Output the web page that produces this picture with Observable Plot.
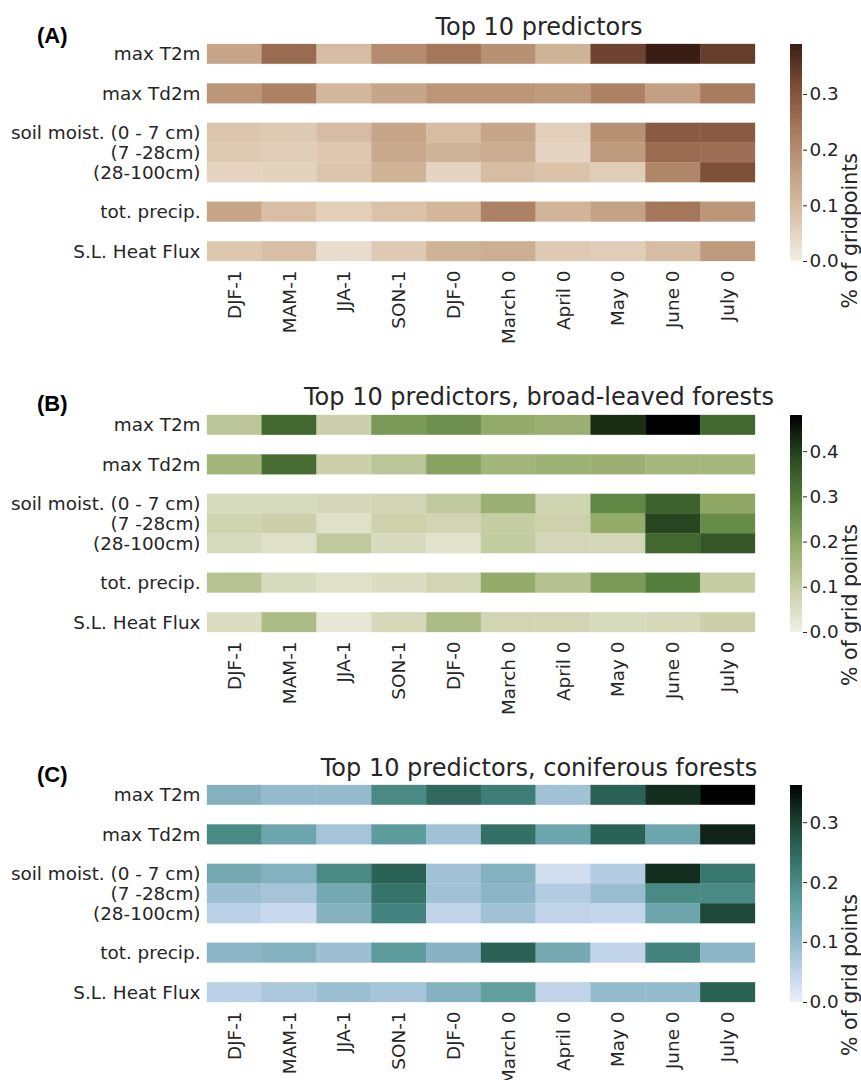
<!DOCTYPE html>
<html><head><meta charset="utf-8">
<script src="https://cdn.jsdelivr.net/npm/d3@7"></script>
<script src="https://cdn.jsdelivr.net/npm/@observablehq/plot@0.6"></script>
<style>
body{margin:0;background:#fff;font-family:"DejaVu Sans",sans-serif;}
#root{position:relative;width:861px;height:1080px;overflow:hidden;background:#fff;}
.abs{position:absolute;}
.title{font-family:"DejaVu Sans",sans-serif;font-size:24px;color:#262626;white-space:nowrap;line-height:1;transform:translateX(-50%);}
.letter{font-family:"Liberation Sans",Arial,sans-serif;font-weight:bold;font-size:22px;line-height:1;color:#000;}
</style></head><body><div id="root"></div>
<script>
// ---- data ----
const columns = ["DJF-1","MAM-1","JJA-1","SON-1","DJF-0","March 0","April 0","May 0","June 0","July 0"];
const predictors = ["max T2m","max Td2m","soil moist. (0 - 7 cm)","(7 -28cm)","(28-100cm)","tot. precip.","S.L. Heat Flux"];
const rowLayout = ["max T2m","gap1","max Td2m","gap2","soil moist. (0 - 7 cm)","(7 -28cm)","(28-100cm)","gap3","tot. precip.","gap4","S.L. Heat Flux"];

const titles = ["Top 10 predictors","Top 10 predictors, broad-leaved forests","Top 10 predictors, coniferous forests"];
const letters = ["(A)","(B)","(C)"];
const colorbarLabels = ["% of gridpoints","% of grid points","% of grid points"];
const colorMax = [0.39, 0.48, 0.362];
const colorbarTicks = [[0,0.1,0.2,0.3],[0,0.1,0.2,0.3,0.4],[0,0.1,0.2,0.3]];

const valuesA = [
  [0.15,0.26,0.10,0.20,0.24,0.19,0.12,0.33,0.39,0.34],
  [0.18,0.22,0.11,0.15,0.18,0.18,0.17,0.22,0.16,0.23],
  [0.08,0.07,0.10,0.15,0.10,0.15,0.06,0.19,0.29,0.29],
  [0.07,0.065,0.075,0.14,0.12,0.135,0.05,0.17,0.26,0.255],
  [0.05,0.055,0.08,0.12,0.05,0.10,0.085,0.065,0.21,0.31],
  [0.15,0.095,0.06,0.085,0.11,0.22,0.115,0.155,0.24,0.18],
  [0.075,0.095,0.035,0.07,0.12,0.13,0.07,0.065,0.10,0.17]
];
const valuesB = [
  [0.12,0.33,0.09,0.23,0.25,0.19,0.18,0.42,0.48,0.33],
  [0.165,0.32,0.09,0.12,0.21,0.165,0.175,0.18,0.16,0.16],
  [0.06,0.06,0.07,0.075,0.11,0.18,0.08,0.27,0.34,0.20],
  [0.08,0.09,0.045,0.085,0.075,0.10,0.085,0.19,0.39,0.26],
  [0.06,0.045,0.11,0.06,0.04,0.105,0.07,0.07,0.33,0.36],
  [0.125,0.06,0.045,0.055,0.075,0.19,0.13,0.23,0.29,0.10],
  [0.055,0.145,0.025,0.065,0.145,0.075,0.075,0.06,0.065,0.09]
];
const valuesC = [
  [0.12,0.10,0.10,0.20,0.25,0.22,0.085,0.26,0.32,0.362],
  [0.20,0.15,0.08,0.17,0.085,0.24,0.15,0.26,0.15,0.33],
  [0.14,0.12,0.20,0.26,0.085,0.12,0.03,0.065,0.32,0.23],
  [0.09,0.08,0.14,0.235,0.085,0.11,0.065,0.095,0.20,0.20],
  [0.055,0.04,0.12,0.21,0.05,0.085,0.05,0.045,0.15,0.29],
  [0.11,0.12,0.09,0.17,0.115,0.26,0.14,0.05,0.21,0.11],
  [0.055,0.075,0.09,0.08,0.12,0.165,0.05,0.10,0.10,0.26]
];
const panelValues = [valuesA, valuesB, valuesC];

// colour ramps (light -> dark)
const rampA = ["#f4eee6","#dcc6ad","#c4a285","#a77a5d","#7d4f38","#3a1e15"];
const rampB = ["#f1f0e5","#c8cea6","#93ab69","#557f3c","#2a4a20","#000000"];
const rampC = ["#eceffa","#bcd1e8","#8db6c8","#62a0a2","#3e8078","#255a4b","#143020","#000000"];
const rampCPos = [0,0.15,0.3,0.45,0.6,0.75,0.88,1];
const ramps = [rampA, rampB, rampC];

// ---- layout ----
const heatTops = [44, 415, 785];
const heatH = 217;
const titleBaselines = [35, 405.5, 776];
const letterBaselines = [43.5, 412, 783];

function makeInterp(idx) {
  if (idx === 2) {
    const s = d3.scaleLinear().domain(rampCPos).range(rampC).interpolate(d3.interpolateRgb).clamp(true);
    return t => s(t);
  }
  return d3.piecewise(d3.interpolateRgb, ramps[idx]);
}

const root = document.getElementById("root");
const txt = "#262626";

for (let k = 0; k < 3; k++) {
  const values = panelValues[k];
  const data = [];
  predictors.forEach((p, i) => columns.forEach((c, j) => data.push({p, c, v: values[i][j]})));
  const interp = makeInterp(k);
  const color = {type: "linear", domain: [0, colorMax[k]], interpolate: interp};

  const heat = Plot.plot({
    width: 861, height: heatH + 110,
    marginLeft: 207, marginRight: 106, marginTop: 0, marginBottom: 110,
    style: {fontFamily: "DejaVu Sans, sans-serif", fontSize: "18.4px", color: txt, background: "transparent", overflow: "visible"},
    x: {domain: columns, padding: 0, round: false, label: null, tickRotate: -90, tickSize: 0, tickPadding: 9},
    y: {domain: rowLayout, padding: 0, round: false, label: null, tickSize: 0, tickPadding: 7,
        tickFormat: d => d.startsWith("gap") ? "" : d},
    color,
    marks: [
      Plot.cell(data, {x: "c", y: "p", fill: "v", stroke: "v", strokeWidth: 0.3})
    ]
  });
  heat.style.position = "absolute";
  heat.style.left = "0px";
  heat.style.top = heatTops[k] + "px";
  root.appendChild(heat);

  const N = 240;
  const stripes = d3.range(N).map(i => ({a: i * colorMax[k] / N, b: (i + 1) * colorMax[k] / N, m: (i + 0.5) * colorMax[k] / N}));
  const cbar = Plot.plot({
    width: 71, height: heatH + 20,
    marginLeft: 0, marginRight: 59, marginTop: 10, marginBottom: 10,
    style: {fontFamily: "DejaVu Sans, sans-serif", fontSize: "18.4px", color: txt, background: "transparent", overflow: "visible"},
    x: {domain: [0, 1], axis: null},
    y: {domain: [0, colorMax[k]], axis: "right", ticks: colorbarTicks[k], tickFormat: d3.format(".1f"), tickSize: 4, tickPadding: 3, label: null},
    color,
    marks: [
      Plot.rect(stripes, {x1: 0, x2: 1, y1: "a", y2: "b", fill: "m", shapeRendering: "crispEdges"}),
      Plot.text([colorbarLabels[k]], {frameAnchor: "right", rotate: -90, dx: 48, fontSize: 20.5, fill: txt})
    ]
  });
  cbar.style.position = "absolute";
  cbar.style.left = "790px";
  cbar.style.top = (heatTops[k] - 10) + "px";
  root.appendChild(cbar);

  const t = document.createElement("div");
  t.className = "abs title";
  t.textContent = titles[k];
  t.style.left = "539px";
  t.style.top = (titleBaselines[k] - 0.846 * 24) + "px";
  root.appendChild(t);

  const l = document.createElement("div");
  l.className = "abs letter";
  l.textContent = letters[k];
  l.style.left = "37px";
  l.style.top = (letterBaselines[k] - 0.8465 * 22) + "px";
  root.appendChild(l);
}
</script></body></html>
